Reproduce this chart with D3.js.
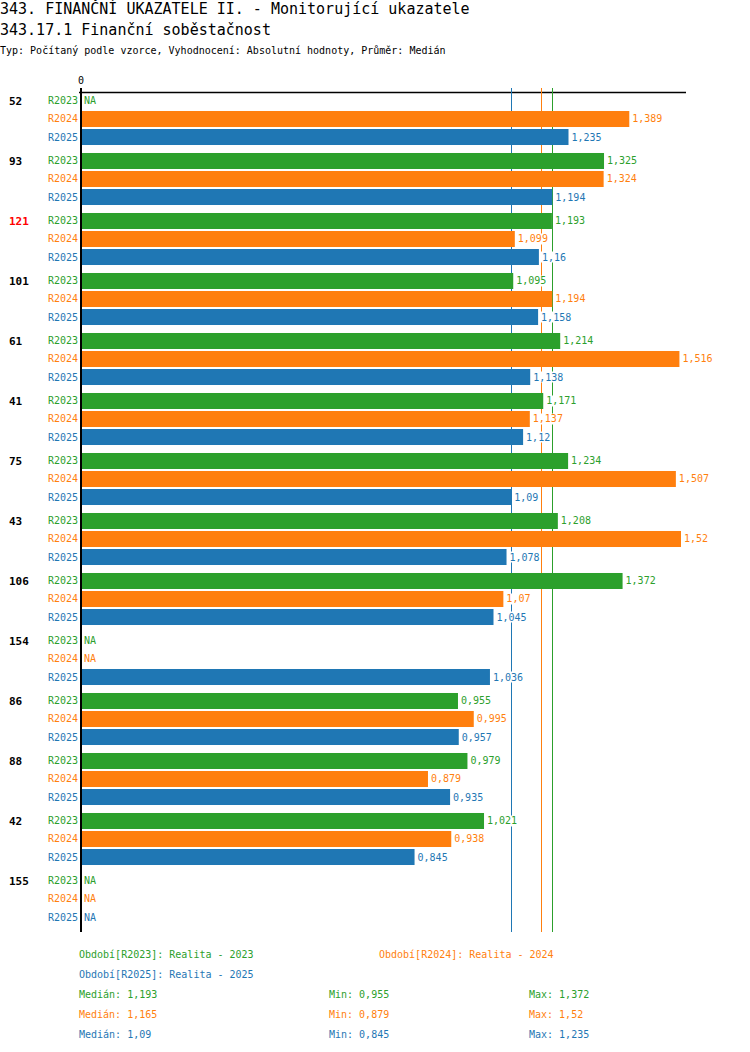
<!DOCTYPE html>
<html>
<head>
<meta charset="utf-8">
<script src="https://cdn.jsdelivr.net/npm/d3@7"></script>
<style>
    body { margin: 0; background: #fff; }
    svg { font-family: "DejaVu Sans Mono", "Liberation Mono", monospace; }
</style>
</head>
<body>
<div id="chart"></div>
<script>
// chart data
const groups = ['52', '93', '121', '101', '61', '41', '75', '43', '106', '154', '86', '88', '42', '155'];
const highlighted = ['121'];
const series = ['R2023', 'R2024', 'R2025'];
const seriesNames = ['Realita - 2023', 'Realita - 2024', 'Realita - 2025'];
const colors = ['#2ca02c', '#ff7f0e', '#1f77b4'];

// null = NA
const valuesR2023 = [null, 1.325, 1.193, 1.095, 1.214, 1.171, 1.234, 1.208, 1.372, null, 0.955, 0.979, 1.021, null];
const valuesR2024 = [1.389, 1.324, 1.099, 1.194, 1.516, 1.137, 1.507, 1.52, 1.07, null, 0.995, 0.879, 0.938, null];
const valuesR2025 = [1.235, 1.194, 1.16, 1.158, 1.138, 1.12, 1.09, 1.078, 1.045, 1.036, 0.957, 0.935, 0.845, null];
const seriesValues = [valuesR2023, valuesR2024, valuesR2025];

const medians = [1.193, 1.165, 1.09];
const mins = [0.955, 0.879, 0.845];
const maxs = [1.372, 1.52, 1.235];

const titleText = '343. FINANČNÍ UKAZATELE II. - Monitorující ukazatele';
const subtitleText = '343.17.1 Finanční soběstačnost';
const infoText = 'Typ: Počítaný podle vzorce, Vyhodnocení: Absolutní hodnoty, Průměr: Medián';

const fmt = (v) => String(v).replace('.', ',');

const width = 750;
const height = 1052;

const svg = d3.select('#chart')
    .append('svg')
    .attr('width', width)
    .attr('height', height);

// headings
svg.append('text').attr('x', 0).attr('y', 14).attr('font-size', 15).text(titleText);
svg.append('text').attr('x', 0).attr('y', 35).attr('font-size', 15).text(subtitleText);
svg.append('text').attr('x', 0).attr('y', 54).attr('font-size', 10).text(infoText);

// scales
const x = d3.scaleLinear().domain([0, 1.52]).range([81, 681]);
const yGroup = d3.scaleBand().domain(groups).range([92, 92 + groups.length * 60]);
const ySeries = d3.scaleBand().domain(series).range([0, 54]).paddingInner(0.111).paddingOuter(0.055);

const plotTop = 88;
const plotBottom = 932;

// top axis
svg.append('line')
    .attr('x1', 79).attr('x2', 686)
    .attr('y1', 92.5).attr('y2', 92.5)
    .attr('stroke', '#000').attr('stroke-width', 1.5);
svg.append('text')
    .attr('x', x(0)).attr('y', 84)
    .attr('text-anchor', 'middle')
    .attr('font-size', 10)
    .text('0');

// median lines (under the bars)
series.forEach((s, i) => {
    svg.append('line')
        .attr('x1', Math.round(x(medians[i])) + 0.5).attr('x2', Math.round(x(medians[i])) + 0.5)
        .attr('y1', plotTop).attr('y2', plotBottom)
        .attr('stroke', colors[i]).attr('stroke-width', 1);
});

// group labels
svg.append('g')
    .selectAll('text')
    .data(groups)
    .enter()
    .append('text')
    .attr('x', 9)
    .attr('y', (d) => yGroup(d) + ySeries('R2023') + ySeries.bandwidth() / 2)
    .attr('dy', '0.35em')
    .attr('font-size', 11)
    .attr('font-weight', 'bold')
    .attr('fill', (d) => highlighted.includes(d) ? '#ff0000' : '#000')
    .text((d) => d);

// rows
const rows = [];
groups.forEach((g, gi) => {
    series.forEach((s, si) => {
        rows.push({ group: g, series: s, si: si, value: seriesValues[si][gi] });
    });
});

const rowG = svg.append('g')
    .selectAll('g')
    .data(rows)
    .enter()
    .append('g')
    .attr('transform', (d) => `translate(0,${yGroup(d.group) + ySeries(d.series)})`);

rowG.append('text')
    .attr('x', 78)
    .attr('y', ySeries.bandwidth() / 2)
    .attr('dy', '0.35em')
    .attr('text-anchor', 'end')
    .attr('font-size', 10)
    .attr('fill', (d) => colors[d.si])
    .text((d) => d.series);

rowG.filter((d) => d.value !== null)
    .append('rect')
    .attr('x', x(0) + 1)
    .attr('y', 0)
    .attr('width', (d) => x(d.value) - x(0) - 1)
    .attr('height', ySeries.bandwidth())
    .attr('fill', (d) => colors[d.si]);

// value labels with white background
rowG.each(function (d) {
    const g = d3.select(this);
    const tx = d.value === null ? x(0) + 3 : x(d.value) + 3;
    const label = d.value === null ? 'NA' : fmt(d.value);
    const bg = g.append('rect')
        .attr('fill', '#fff');
    const t = g.append('text')
        .attr('x', tx)
        .attr('y', ySeries.bandwidth() / 2)
        .attr('dy', '0.35em')
        .attr('font-size', 10)
        .attr('fill', colors[d.si])
        .text(label);
    const bb = t.node().getBBox();
    bg.attr('x', bb.x - 1).attr('y', bb.y)
        .attr('width', bb.width + 2).attr('height', bb.height);
});

// zero axis line
svg.append('line')
    .attr('x1', x(0)).attr('x2', x(0))
    .attr('y1', plotTop).attr('y2', plotBottom)
    .attr('stroke', '#000').attr('stroke-width', 2);

// legend
const legendPos = [[79, 958], [379, 958], [79, 978]];
series.forEach((s, i) => {
    svg.append('text')
        .attr('x', legendPos[i][0]).attr('y', legendPos[i][1])
        .attr('font-size', 10)
        .attr('fill', colors[i])
        .text(`Období[${s}]: ${seriesNames[i]}`);
});

// stats
series.forEach((s, i) => {
    const yy = 998 + i * 20;
    svg.append('text').attr('x', 79).attr('y', yy).attr('font-size', 10)
        .attr('fill', colors[i]).text(`Medián: ${fmt(medians[i])}`);
    svg.append('text').attr('x', 329).attr('y', yy).attr('font-size', 10)
        .attr('fill', colors[i]).text(`Min: ${fmt(mins[i])}`);
    svg.append('text').attr('x', 529).attr('y', yy).attr('font-size', 10)
        .attr('fill', colors[i]).text(`Max: ${fmt(maxs[i])}`);
});
</script>
</body>
</html>
